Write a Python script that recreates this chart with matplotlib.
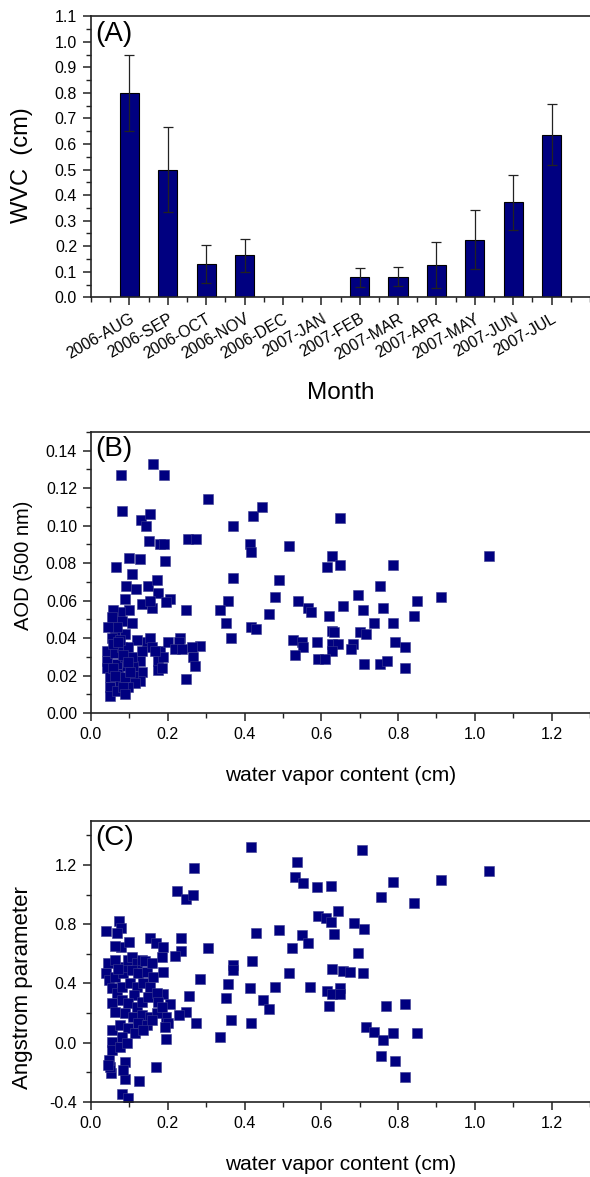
import numpy as np
import matplotlib
matplotlib.use("Agg")
import matplotlib.pyplot as plt
from matplotlib.ticker import MultipleLocator, FormatStrFormatter

plt.rcParams['font.family'] = ['Liberation Sans', 'DejaVu Sans']
plt.rcParams['axes.unicode_minus'] = False

# (A) monthly mean water vapour content
months = ['2006-AUG', '2006-SEP', '2006-OCT', '2006-NOV', '2006-DEC', '2007-JAN',
          '2007-FEB', '2007-MAR', '2007-APR', '2007-MAY', '2007-JUN', '2007-JUL']
wvc = [0.80, 0.50, 0.131, 0.165, np.nan, np.nan, 0.078, 0.081, 0.126, 0.225, 0.372, 0.637]
wvc_err = [0.15, 0.167, 0.074, 0.065, np.nan, np.nan, 0.038, 0.036, 0.09, 0.115, 0.108, 0.12]

# (B) AOD (500 nm) vs water vapour content
wv_b = [0.078, 0.161, 0.190, 0.082, 0.306, 0.130, 0.154, 0.143, 0.152, 0.180, 0.190, 0.194,
        0.100, 0.128, 0.064, 0.253, 0.273, 0.369, 0.415, 0.418, 0.423, 0.446, 0.515, 0.369,
        0.490, 0.479, 0.539, 0.566, 0.463, 0.356, 0.336, 0.353, 0.365, 0.416, 0.431, 0.247,
        0.525, 0.551, 0.553, 0.531,
        0.108, 0.090, 0.117, 0.149, 0.171, 0.175, 0.089, 0.206, 0.195, 0.132, 0.158, 0.154,
        0.099, 0.076, 0.058, 0.080, 0.106, 0.063, 0.089, 0.054, 0.119, 0.145, 0.154, 0.158,
        0.180, 0.201, 0.232, 0.230, 0.219, 0.284, 0.262, 0.266, 0.271, 0.247, 0.175, 0.188,
        0.175, 0.132, 0.128, 0.132, 0.128, 0.110, 0.115, 0.167, 0.236, 0.184,
        0.041, 0.041, 0.041, 0.049, 0.049, 0.049, 0.063, 0.067, 0.071, 0.076, 0.089, 0.093,
        0.097, 0.080, 0.097, 0.058, 0.076, 0.089, 0.058, 0.067, 0.084, 0.110, 0.106, 0.058,
        0.067, 0.045, 0.054, 0.071, 0.084, 0.097, 0.102, 0.063, 0.088,
        0.648, 1.036, 0.629, 0.615, 0.648, 0.788, 0.754, 0.696, 0.912, 0.849, 0.572, 0.657,
        0.709, 0.760, 0.620, 0.842, 0.738, 0.788, 0.627, 0.634, 0.702, 0.717, 0.588, 0.627,
        0.644, 0.683, 0.677, 0.627, 0.792, 0.818, 0.592, 0.610, 0.711, 0.754, 0.770, 0.818]
aod = [0.127, 0.133, 0.127, 0.108, 0.114, 0.103, 0.106, 0.100, 0.092, 0.090, 0.090, 0.081,
       0.083, 0.082, 0.078, 0.093, 0.093, 0.100, 0.090, 0.086, 0.105, 0.110, 0.089, 0.072,
       0.071, 0.062, 0.060, 0.056, 0.053, 0.060, 0.055, 0.048, 0.040, 0.046, 0.045, 0.055,
       0.039, 0.038, 0.035, 0.031,
       0.074, 0.068, 0.066, 0.068, 0.071, 0.064, 0.061, 0.061, 0.059, 0.058, 0.056, 0.060,
       0.055, 0.054, 0.049, 0.049, 0.048, 0.042, 0.042, 0.040, 0.039, 0.038, 0.040, 0.035,
       0.033, 0.038, 0.040, 0.038, 0.034, 0.036, 0.035, 0.030, 0.025, 0.018, 0.028, 0.030,
       0.023, 0.033, 0.028, 0.022, 0.017, 0.020, 0.016, 0.033, 0.034, 0.024,
       0.033, 0.028, 0.024, 0.019, 0.014, 0.009, 0.032, 0.026, 0.021, 0.016, 0.030, 0.025,
       0.014, 0.035, 0.035, 0.037, 0.039, 0.019, 0.024, 0.012, 0.014, 0.025, 0.030, 0.055,
       0.046, 0.046, 0.051, 0.038, 0.031, 0.027, 0.022, 0.020, 0.010,
       0.104, 0.084, 0.084, 0.078, 0.079, 0.079, 0.068, 0.063, 0.062, 0.060, 0.054, 0.057,
       0.055, 0.056, 0.052, 0.052, 0.048, 0.048, 0.044, 0.043, 0.043, 0.042, 0.038, 0.037,
       0.037, 0.037, 0.034, 0.033, 0.038, 0.035, 0.029, 0.029, 0.026, 0.026, 0.028, 0.024]

# (C) Angstrom parameter vs water vapour content
wv_c = [0.416, 0.269, 0.223, 0.247, 0.266, 0.537, 0.532, 0.553, 0.038, 0.074, 0.078, 0.069,
        0.078, 0.063, 0.100, 0.154, 0.169, 0.188, 0.185, 0.234, 0.234, 0.219, 0.306, 0.431,
        0.490, 0.420, 0.369, 0.369, 0.284, 0.356, 0.353, 0.365, 0.415, 0.417, 0.447, 0.463,
        0.479, 0.524, 0.515, 0.550, 0.566, 0.570, 0.336, 0.256, 0.247, 0.230, 0.273, 0.188,
        0.188, 0.206, 0.195, 0.201, 0.195, 0.169, 0.125, 0.089, 0.082, 0.097, 0.052, 0.049,
        0.047, 0.089, 0.084,
        0.043, 0.039, 0.048, 0.063, 0.063, 0.056, 0.056, 0.063, 0.067, 0.080, 0.084, 0.089,
        0.071, 0.097, 0.108, 0.119, 0.132, 0.141, 0.106, 0.123, 0.145, 0.162, 0.158, 0.102,
        0.119, 0.136, 0.154, 0.113, 0.080, 0.097, 0.119, 0.132, 0.149, 0.171, 0.175, 0.089,
        0.110, 0.132, 0.154, 0.171, 0.184, 0.054, 0.076, 0.097, 0.123, 0.145, 0.158, 0.054,
        0.054, 0.080, 0.076, 0.093, 0.115, 0.136, 0.045, 0.193,
        0.705, 1.036, 0.912, 0.788, 0.755, 0.842, 0.588, 0.625, 0.592, 0.612, 0.625, 0.644,
        0.685, 0.711, 0.634, 0.695, 0.628, 0.657, 0.676, 0.709, 0.614, 0.648, 0.629, 0.648,
        0.620, 0.769, 0.818, 0.717, 0.738, 0.760, 0.788, 0.849, 0.755, 0.792, 0.818]
ang = [1.324, 1.178, 1.027, 0.970, 0.997, 1.223, 1.121, 1.076, 0.754, 0.822, 0.777, 0.738,
       0.648, 0.655, 0.682, 0.705, 0.671, 0.648, 0.576, 0.705, 0.619, 0.587, 0.641, 0.743,
       0.761, 0.554, 0.524, 0.490, 0.430, 0.394, 0.299, 0.153, 0.367, 0.130, 0.288, 0.227,
       0.373, 0.641, 0.473, 0.727, 0.671, 0.373, 0.036, 0.315, 0.205, 0.187, 0.135, 0.328,
       0.479, 0.261, 0.175, 0.130, 0.022, -0.163, -0.257, -0.246, -0.350, -0.372, -0.208, -0.163,
       -0.118, -0.129, -0.185,
       0.536, 0.468, 0.423, 0.558, 0.446, 0.367, 0.265, 0.209, 0.333, 0.378, 0.468, 0.513,
       0.495, 0.558, 0.581, 0.536, 0.558, 0.554, 0.491, 0.468, 0.479, 0.446, 0.536, 0.400,
       0.378, 0.400, 0.378, 0.322, 0.288, 0.265, 0.243, 0.277, 0.311, 0.333, 0.277, 0.198,
       0.175, 0.186, 0.175, 0.198, 0.243, 0.085, 0.119, 0.096, 0.130, 0.119, 0.153, 0.007,
       -0.050, 0.040, -0.027, -0.005, 0.063, 0.085, -0.151, 0.108,
       1.301, 1.162, 1.099, 1.083, 0.984, 0.943, 1.049, 1.058, 0.858, 0.842, 0.817, 0.889,
       0.806, 0.768, 0.732, 0.603, 0.500, 0.482, 0.475, 0.468, 0.351, 0.371, 0.326, 0.326,
       0.247, 0.250, 0.263, 0.108, 0.069, 0.018, 0.067, 0.067, -0.090, -0.124, -0.235]

navy = '#000080'
fig = plt.figure(figsize=(5.9, 11.77), dpi=100)
left, width, height = 91 / 590, 1 - 91 / 590, 281 / 1177
axA = fig.add_axes([left, 1 - 297.3 / 1177, width, height])
axB = fig.add_axes([left, 1 - 713 / 1177, width, height])
axC = fig.add_axes([left, 1 - 1101.7 / 1177, width, height])


def style(ax):
    ax.spines['right'].set_visible(False)
    for s in ['left', 'bottom', 'top']:
        ax.spines[s].set_linewidth(1.2)
        ax.spines[s].set_color('#222222')
    ax.tick_params(which='major', direction='out', length=6, width=1.1, labelsize=11.5, pad=4,
                   top=False, right=False, color='#222222')
    ax.tick_params(which='minor', direction='out', length=3.5, width=1.0,
                   top=False, right=False, color='#222222')


# panel A
x = np.arange(len(months))
axA.bar(x, wvc, width=0.5, color=navy, edgecolor='black', linewidth=0.8)
axA.errorbar(x, wvc, yerr=wvc_err, fmt='none', ecolor='#222222', elinewidth=0.9,
             capsize=3.5, capthick=0.9)
axA.set_xlim(-1, 12)
axA.set_ylim(0, 1.1)
axA.set_xticks(x)
axA.set_xticklabels(months, rotation=30, ha='right', rotation_mode='anchor', fontsize=11.5)
axA.xaxis.set_minor_locator(MultipleLocator(0.5))
axA.yaxis.set_major_locator(MultipleLocator(0.1))
axA.yaxis.set_minor_locator(MultipleLocator(0.05))
axA.yaxis.set_major_formatter(FormatStrFormatter('%.1f'))
style(axA)
axA.set_ylabel('WVC  (cm)', fontsize=17)
axA.yaxis.set_label_coords(-0.117, 0.47)
axA.set_xlabel('Month', fontsize=17.5)
axA.xaxis.set_label_coords(0.5, -0.30)
axA.text(0.008, 0.985, '(A)', transform=axA.transAxes, fontsize=20, va='top', ha='left')

# panel B
axB.scatter(wv_b, aod, marker='s', s=55, color=navy, edgecolors='#3b3b8f', linewidths=0.4)
axB.set_xlim(0, 1.3)
axB.set_ylim(0, 0.15)
axB.xaxis.set_major_locator(MultipleLocator(0.2))
axB.xaxis.set_minor_locator(MultipleLocator(0.1))
axB.xaxis.set_major_formatter(FormatStrFormatter('%.1f'))
axB.yaxis.set_major_locator(MultipleLocator(0.02))
axB.yaxis.set_minor_locator(MultipleLocator(0.01))
axB.yaxis.set_major_formatter(FormatStrFormatter('%.2f'))
style(axB)
axB.set_ylabel('AOD (500 nm)', fontsize=14.5)
axB.yaxis.set_label_coords(-0.117, 0.527)
axB.set_xlabel('water vapor content (cm)', fontsize=15)
axB.xaxis.set_label_coords(0.5, -0.19)
axB.text(0.008, 0.985, '(B)', transform=axB.transAxes, fontsize=20, va='top', ha='left')

# panel C
axC.scatter(wv_c, ang, marker='s', s=55, color=navy, edgecolors='#3b3b8f', linewidths=0.4)
axC.set_xlim(0, 1.3)
axC.set_ylim(-0.4, 1.5)
axC.xaxis.set_major_locator(MultipleLocator(0.2))
axC.xaxis.set_minor_locator(MultipleLocator(0.1))
axC.xaxis.set_major_formatter(FormatStrFormatter('%.1f'))
axC.yaxis.set_major_locator(MultipleLocator(0.4))
axC.yaxis.set_minor_locator(MultipleLocator(0.2))
axC.yaxis.set_major_formatter(FormatStrFormatter('%.1f'))
style(axC)
axC.set_ylabel('Angstrom parameter', fontsize=16)
axC.yaxis.set_label_coords(-0.117, 0.405)
axC.set_xlabel('water vapor content (cm)', fontsize=15)
axC.xaxis.set_label_coords(0.5, -0.19)
axC.text(0.008, 0.985, '(C)', transform=axC.transAxes, fontsize=20, va='top', ha='left')

fig.savefig('out.png', dpi=100)
